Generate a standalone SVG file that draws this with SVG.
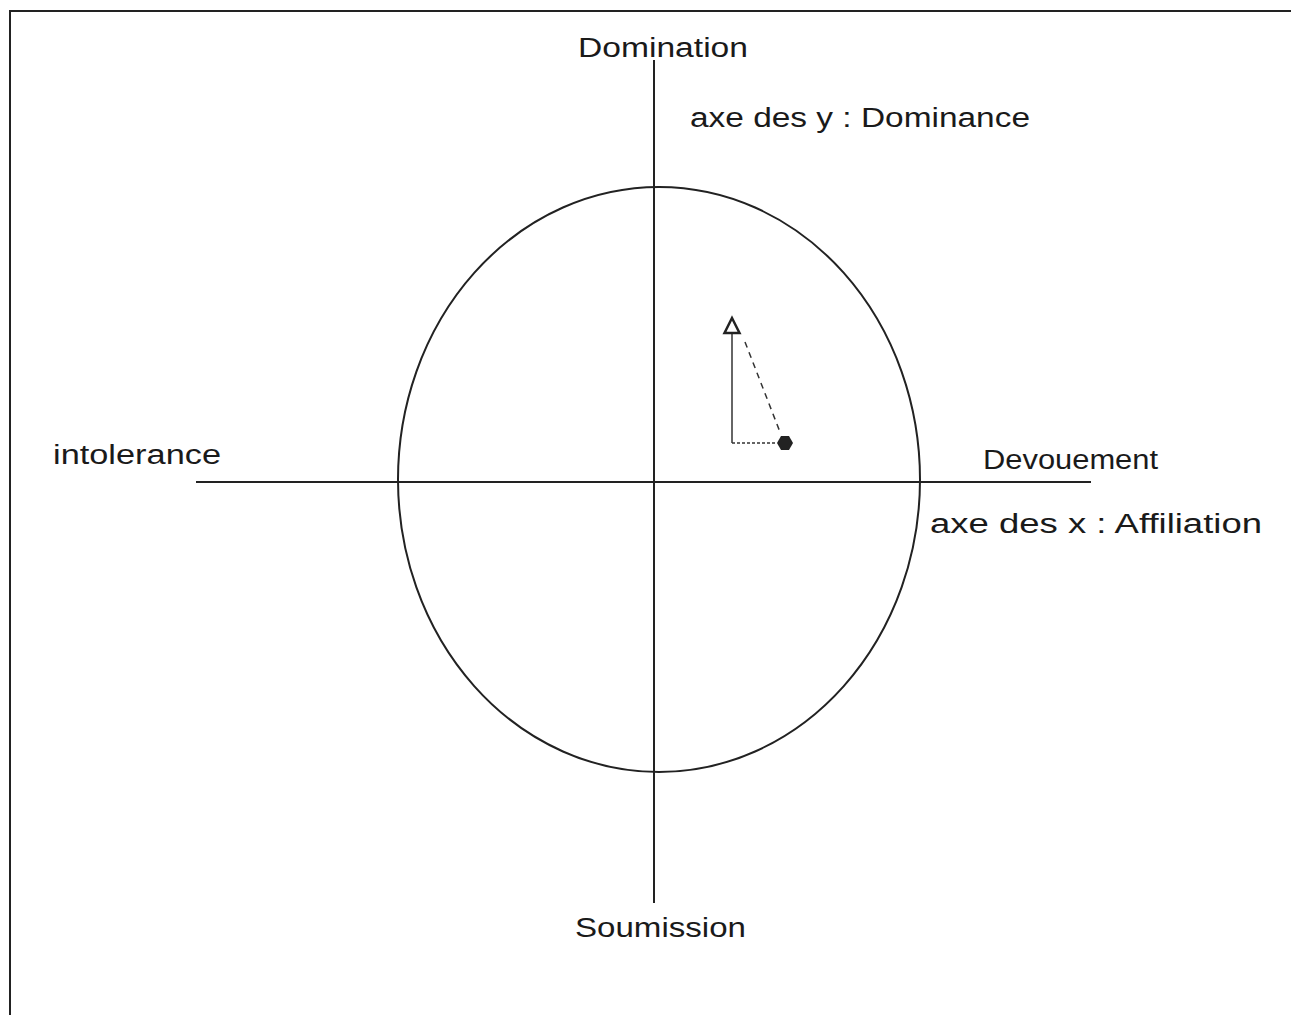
<svg xmlns="http://www.w3.org/2000/svg" width="1291" height="1015" viewBox="0 0 1291 1015">
<style>
.t{font-family:"Liberation Sans","DejaVu Sans",sans-serif;font-size:27px;fill:#1a1a1a}
.ln{stroke:#222;stroke-width:2;fill:none}
</style>
<rect width="1291" height="1015" fill="#fff"/>
<g id="frame">
<path class="ln" d="M10,1015 V11 H1291" stroke-width="2.5"/>
</g>
<g id="circle">
<ellipse cx="659" cy="479.5" rx="261" ry="292.5" class="ln" stroke-width="1.8"/>
</g>
<g id="connectors">
<line x1="654" y1="60" x2="654" y2="903" class="ln"/>
<line x1="196" y1="482" x2="1091" y2="482" class="ln"/>
<line x1="732" y1="333" x2="732" y2="443" stroke="#333" stroke-width="1.5"/>
<line x1="732" y1="443" x2="777" y2="443" stroke="#333" stroke-width="1.5" stroke-dasharray="3,2"/>
<line x1="745" y1="342" x2="780" y2="432" stroke="#333" stroke-width="1.5" stroke-dasharray="6,5"/>
</g>
<g id="triangle">
<polygon points="732,318 739.5,333 724.5,333" fill="#fff" stroke="#222" stroke-width="2.5"/>
</g>
<g id="dot">
<polygon points="781,436 789,436 793,443 789,450 781,450 777,443" fill="#222"/>
</g>
<g id="labels">
<text class="t" x="578" y="57" textLength="170" lengthAdjust="spacingAndGlyphs">Domination</text>
<text class="t" x="690" y="127" textLength="340" lengthAdjust="spacingAndGlyphs">axe des y  :  Dominance</text>
<text class="t" x="53" y="464" textLength="168" lengthAdjust="spacingAndGlyphs">intolerance</text>
<text class="t" x="983" y="469" textLength="175" lengthAdjust="spacingAndGlyphs">Devouement</text>
<text class="t" x="930" y="533" textLength="332" lengthAdjust="spacingAndGlyphs">axe des x :  Affiliation</text>
<text class="t" x="575" y="937" textLength="171" lengthAdjust="spacingAndGlyphs">Soumission</text>
</g>
</svg>
